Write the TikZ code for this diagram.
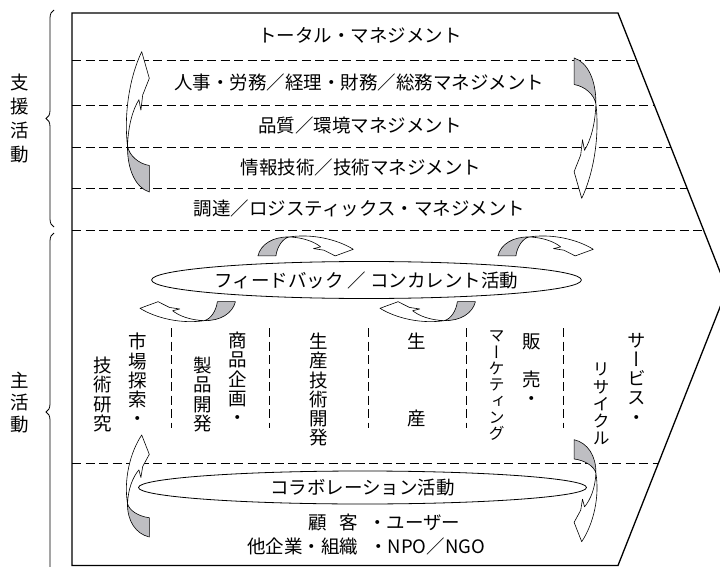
\documentclass[tikz,border=0pt]{standalone}
\usepackage{fontspec}
\newfontfamily\jp{Noto Sans CJK JP}
\newfontfamily\jpv[RawFeature=+vert]{Noto Sans CJK JP}
\usetikzlibrary{decorations.pathreplacing,shapes.geometric}
\definecolor{agray}{RGB}{190,190,194}
\tikzset{
  frame/.style={line width=1.3pt, line join=miter},
  sepline/.style={dash pattern=on 9pt off 4.5pt, line width=0.8pt},
  rowtext/.style={font=\jp\fontsize{18.5}{19}\selectfont, inner sep=0pt},
  coltext/.style={font=\jpv\fontsize{18.5}{19.2}\selectfont, inner sep=0pt, align=center, anchor=north},
  lens/.style={draw, ellipse, line width=0.8pt, fill=white, inner sep=0pt, font=\jp\fontsize{18.5}{19}\selectfont},
  cband/.style={draw, line width=0.6pt, fill=white, line join=round},
  cshade/.style={draw, line width=0.6pt, fill=agray, line join=round},
  lbrace/.style={decorate, decoration={brace, amplitude=8pt}, line width=0.8pt},
}
\newcommand\curvarrow{%
  \path[cband] (0,0) -- (7.6,26.6) -- (1,43.3) -- (-0.8,58.5) -- (-2.8,48)
     .. controls (-9,58) and (-13.5,74) .. (-14.2,94.3)
     .. controls (-18,62) and (-12,25) .. (0,0) -- cycle;
  \path[cshade] (-14.2,94.3) .. controls (-12.5,104) and (-3,112) .. (7.6,113.8) -- (7.6,140.3)
     .. controls (-6,136) and (-14.5,118) .. (-14.2,94.3) -- cycle;
}
\begin{document}
\begin{tikzpicture}[x=1pt,y=-1pt]
\useasboundingbox (0,0) rectangle (720,567);
\clip (0,0) rectangle (720,567);

% dashed separators (support rows)
\draw[sepline] (72,60) -- (636.5,60);
\draw[sepline] (72,105) -- (654.3,105);
\draw[sepline] (72,147) -- (670.8,147);
\draw[sepline] (72,188) -- (687.0,188);
\draw[sepline] (72,230) -- (703.5,230);
\draw[sepline] (72,463) -- (658.5,463);
% column separators
\foreach \cx in {171,269,368,466,563}
  \draw[sepline] (\cx,328) -- (\cx,428);

% outer chevron
\draw[frame] (72,13) -- (618,13) -- (727,289.5) -- (618,565.5) -- (72,565.5) -- cycle;

% braces and side labels
\draw[lbrace] (54,227) -- (54,10);
\draw[lbrace] (54,591) -- (54,233);
\node[coltext, font=\jp\fontsize{18.5}{24}\selectfont] (sup) at (19.5,74) {支\\援\\活\\動};
\node[coltext, font=\jp\fontsize{18.5}{22}\selectfont] (pri) at (19.5,372) {主\\活\\動};

% support rows
\node[rowtext] (r1) at (360,35) {トータル・マネジメント};
\node[rowtext] (r2) at (359,82.5) {人事・労務／経理・財務／総務マネジメント};
\node[rowtext] (r3) at (360,125) {品質／環境マネジメント};
\node[rowtext] (r4) at (361,167.5) {情報技術／技術マネジメント};
\node[rowtext] (r5) at (359.5,208.3) {調達／ロジスティックス・マネジメント};

% ellipses
\node[lens, minimum width=427pt, minimum height=37pt] (fb) at (366.5,280) {フィードバック ／ コンカレント活動};
\node[lens, minimum width=448pt, minimum height=33pt] (co) at (362.5,487.5) {コラボレーション活動};

% columns
\node[coltext] (c1a) at (138,333) {市\\場\\探\\索\\・};
\node[coltext] (c1b) at (103,357) {技\\術\\研\\究};
\node[coltext] (c2a) at (237.5,332) {商\\品\\企\\画\\・};
\node[coltext] (c2b) at (202.5,357) {製\\品\\開\\発};
\node[coltext] (c3) at (318.3,333) {生\\産\\技\\術\\開\\発};
\node[coltext] (c4) at (416.5,333) {生\\　\\　\\　\\産};
\node[coltext] (c5a) at (531.7,333) {販\\　\\売\\・};
\node[coltext, font=\jpv\fontsize{16}{16.3}\selectfont] (c5b) at (496.5,331) {マ\\ー\\ケ\\テ\\ィ\\ン\\グ};
\node[coltext] (c6a) at (636.7,333) {サ\\ー\\ビ\\ス\\・};
\node[coltext, font=\jpv\fontsize{17}{17.2}\selectfont] (c6b) at (601,363) {リ\\サ\\イ\\ク\\ル};

% customers
\node[rowtext, anchor=west] (cu1) at (308,522.5) {顧\hspace{13pt}客\hspace{10pt}・ユーザー};
\node[rowtext, anchor=west] (cu2) at (247,546.7) {他企業・組織\hspace{11pt}・NPO／NGO};

% curved arrows (vertical)
\begin{scope}[shift={(141.7,51.7)}]\curvarrow\end{scope}
\begin{scope}[shift={(581.7,198.3)}, rotate=180]\curvarrow\end{scope}
\begin{scope}[shift={(141.7,435)}, yscale=0.727]\curvarrow\end{scope}
\begin{scope}[shift={(581.7,541.7)}, rotate=180, yscale=0.727]\curvarrow\end{scope}
% curved arrows (horizontal, around feedback)
\begin{scope}[shift={(353.3,249.3)}, rotate=-90, xscale=0.87, yscale=0.68]\curvarrow\end{scope}
\begin{scope}[shift={(593.3,249.3)}, rotate=-90, xscale=0.87, yscale=0.68]\curvarrow\end{scope}
\begin{scope}[shift={(140,308.3)}, rotate=90, xscale=0.87, yscale=0.68]\curvarrow\end{scope}
\begin{scope}[shift={(380,308.3)}, rotate=90, xscale=0.87, yscale=0.68]\curvarrow\end{scope}
\end{tikzpicture}
\end{document}
